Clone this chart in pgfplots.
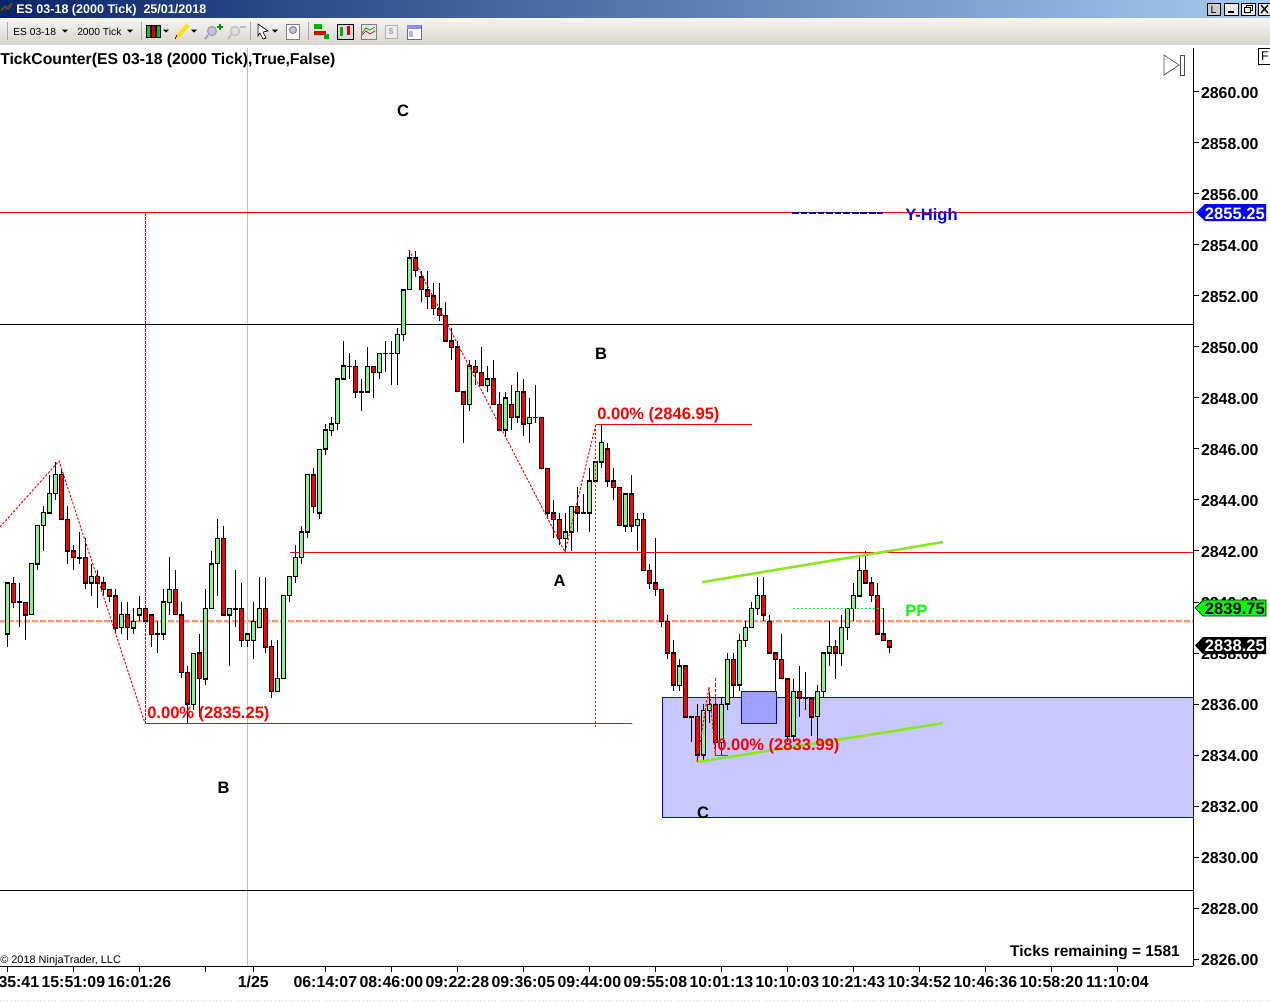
\documentclass[border=0pt]{standalone}
\usepackage{fontspec}
\setmainfont{Liberation Sans}
\usepackage{pgfplots}
\usepackage{pgfplotstable}
\pgfplotsset{compat=1.18}

\definecolor{upc}{HTML}{90EE90}
\definecolor{dnc}{HTML}{FF0000}
\definecolor{ppline}{HTML}{FF9468}
\definecolor{pphalo}{HTML}{FFD8C8}
\definecolor{chan}{HTML}{8CE81E}
\definecolor{zone}{HTML}{C8C8FF}
\definecolor{zone2}{HTML}{A0A0FF}
\definecolor{titlea}{HTML}{0A246A}
\definecolor{titleb}{HTML}{A6CAF0}
\definecolor{bara}{HTML}{F5F4EF}
\definecolor{barb}{HTML}{D9D6D0}

% i open high low close
\pgfplotstableread{
i o h l c
0 2838.75 2840.75 2838.25 2840.75
2 2840 2840.75 2839 2840
4 2839.5 2841.5 2839.5 2841.5
5 2841.5 2843 2841.25 2843
6 2843 2843.75 2842 2843.5
7 2843.5 2845 2843.5 2844.25
8 2844.25 2845.5 2844 2845
12 2841.75 2842.75 2841.5 2841.75
14 2840.75 2841.5 2840.25 2841
19 2839 2840 2838.75 2839.5
21 2839 2839.75 2838.75 2839.25
22 2839.5 2840.25 2839.25 2839.75
25 2838.75 2839.25 2838 2838.75
26 2838.75 2840.5 2838.5 2840
27 2840 2841.75 2839.5 2840.5
31 2836 2838 2835.75 2838
33 2837 2840.5 2836.75 2839.75
34 2839.75 2842 2839.75 2841.5
35 2841.5 2843.25 2840.25 2842.5
37 2839.5 2839.75 2837.5 2839.75
38 2839.75 2841.25 2839 2839.75
40 2838.5 2838.75 2838.25 2838.75
41 2838.5 2840 2837.75 2839.25
42 2839 2841 2839 2839.75
45 2836.5 2838.5 2836.5 2837
46 2837 2840.25 2837 2840.25
47 2840.25 2841 2840 2841
48 2841 2842.25 2840.75 2841.75
49 2841.75 2843 2841.5 2842.75
50 2842.75 2845 2842.5 2845
52 2843.5 2846 2843.25 2846
53 2846 2847 2845.75 2846.75
54 2846.75 2847.25 2846.5 2847
55 2847 2848.75 2846.75 2848.75
56 2848.75 2850.25 2848.75 2849.25
57 2849.25 2849.75 2848.75 2849.25
59 2848.25 2848.75 2847.5 2848.25
60 2848.25 2850 2848.25 2849.25
62 2849 2849.75 2848.75 2849.75
63 2849.75 2850.25 2849 2849.75
64 2849.75 2850.25 2848.5 2849.75
65 2849.75 2850.75 2848.5 2850.5
66 2850.5 2852.25 2850.25 2852.25
67 2852.25 2853.75 2852.25 2853.5
77 2847.75 2849.5 2847.5 2849.25
80 2848.5 2849.25 2848.25 2848.75
83 2846.75 2848.25 2846.5 2848
85 2847.25 2849 2847 2848.25
87 2847 2848 2846.25 2847.25
88 2847.25 2848.5 2847 2847.25
93 2842.5 2843.5 2842 2842.75
94 2842.75 2843.75 2842 2843.75
96 2843.5 2844.25 2843.5 2843.5
97 2843.5 2845.25 2842.75 2844.75
98 2844.75 2845.5 2844.75 2845.5
99 2845.5 2847 2845.25 2846.25
103 2843 2844.25 2842.75 2844.25
105 2843 2843.5 2842 2843.25
112 2836.75 2837.75 2836.5 2837.5
114 2835.5 2835.5 2834.5 2835.5
116 2834 2836 2833.75 2835.75
117 2835.75 2836.5 2835.25 2836
119 2834.5 2836.25 2834 2836
120 2836 2838 2835.75 2837.75
122 2836.75 2838.75 2836.5 2838.5
123 2838.5 2839.25 2838.25 2839
124 2839 2840 2839 2839.75
125 2839.75 2841 2839.5 2840.25
131 2834.75 2837 2834.5 2836.5
133 2836.25 2837.25 2835.75 2836.25
135 2835.5 2836.75 2834.5 2836.5
136 2836.5 2838 2836.25 2838
137 2838 2839.25 2837.5 2838.25
139 2838 2839.5 2837.5 2839
140 2839 2839.75 2838.5 2839.75
141 2839.75 2840.75 2839.25 2840.25
142 2840.25 2841.75 2840.25 2841.25
}\upbars

\pgfplotstableread{
i o h l c
1 2840.75 2841 2839.75 2840
3 2840 2840 2838.5 2839.5
9 2845 2845.25 2843.25 2843.25
10 2843.25 2843.75 2841.5 2842
11 2842 2842.25 2841.25 2841.75
13 2841.75 2842.5 2840.5 2840.75
15 2841 2841.25 2839.75 2840.75
16 2840.75 2841 2840.25 2840.5
17 2840.5 2840.5 2840 2840.25
18 2840.25 2840.5 2838.75 2839
20 2839.5 2840 2838.5 2839
23 2839.75 2839.75 2839.25 2839.25
24 2839.5 2839.5 2838.25 2838.75
28 2840.5 2841.25 2839.5 2839.5
29 2839.5 2840 2837 2837.25
30 2837.25 2837.5 2835.25 2836
32 2838 2838.75 2835.5 2837
36 2842.5 2843 2839.5 2839.5
39 2839.75 2840.75 2838.25 2838.5
43 2839.75 2841 2838 2838.25
44 2838.25 2838.5 2836.25 2836.5
51 2845 2845.25 2843.5 2843.75
58 2849.25 2849.5 2848 2848.25
61 2849.25 2849.25 2848 2849
68 2853.5 2853.75 2852.75 2853
69 2852.75 2853 2851.75 2852.25
70 2852.25 2853 2851.5 2852
71 2852 2852.5 2851.25 2851.5
72 2851.5 2852.5 2851 2851.25
73 2851.25 2851.75 2850.25 2850.25
74 2850.25 2850.75 2849.5 2850
75 2850 2850.25 2848.25 2848.25
76 2848.25 2848.25 2846.25 2847.75
78 2849.25 2849.5 2848.5 2849
79 2849 2850 2848.5 2848.5
81 2848.75 2849.5 2847.75 2847.75
82 2847.75 2848.25 2846.75 2846.75
84 2847.75 2848.5 2846.75 2847.25
86 2848.25 2848.75 2846.5 2847
89 2847.25 2847.25 2845.25 2845.25
90 2845.25 2845.25 2843.25 2843.5
91 2843.5 2844 2842.5 2843.25
92 2843.25 2843.5 2842.25 2842.5
95 2843.75 2844.5 2842.75 2843.5
100 2846 2846.25 2844.5 2844.75
101 2844.75 2845.25 2844 2844.5
102 2844.5 2844.5 2843 2843
104 2844.25 2845 2842.75 2843
106 2843.25 2843.5 2841.25 2841.25
107 2841.25 2841.5 2840.5 2840.75
108 2840.75 2842.5 2840.25 2840.5
109 2840.5 2840.5 2839 2839.25
110 2839.25 2839.5 2837.75 2838
111 2838 2838.5 2836.5 2836.75
113 2837.5 2837.5 2835.5 2835.5
115 2835.5 2836 2833.75 2834
118 2836 2836.25 2834.25 2834.5
121 2837.75 2838 2836.25 2836.75
126 2840.25 2841 2839.25 2839.5
127 2839.25 2839.5 2838 2838
128 2838 2838 2836.5 2837.75
129 2837.75 2838.75 2837 2837
130 2837 2837 2834.5 2834.75
132 2836.5 2837.5 2835.5 2836.25
134 2836.25 2836.25 2834.75 2835.5
138 2838.25 2838.5 2837 2838
143 2841.25 2842 2840.75 2840.75
144 2840.75 2841 2840 2840.25
145 2840.25 2840.75 2838.75 2838.75
146 2838.75 2839.75 2838.5 2838.5
147 2838.5 2838.5 2838 2838.25
}\dnbars

\newcommand{\wicks}[1]{
  \addplot[draw=none, mark=none, forget plot,
    error bars/.cd, y dir=both, y explicit, error mark=none,
    error bar style={black, line width=.9pt}]
    table[x=i, y expr={(\thisrow{o}+\thisrow{c})/2},
      y error plus expr={\thisrow{h}-(\thisrow{o}+\thisrow{c})/2},
      y error minus expr={(\thisrow{o}+\thisrow{c})/2-\thisrow{l}}] {#1};
}
\newcommand{\bodies}[2]{
  \addplot[draw=none, mark=none, forget plot,
    error bars/.cd, y dir=both, y explicit, error mark=none,
    error bar style={black, line width=4pt}]
    table[x=i, y expr={(\thisrow{o}+\thisrow{c})/2},
      y error plus expr={abs(\thisrow{o}-\thisrow{c})/2+0.025},
      y error minus expr={abs(\thisrow{o}-\thisrow{c})/2+0.025}] {#1};
  \addplot[draw=none, mark=none, forget plot,
    error bars/.cd, y dir=both, y explicit, error mark=none,
    error bar style={#2, line width=2.4pt}]
    table[x=i, y expr={(\thisrow{o}+\thisrow{c})/2},
      y error plus expr={max(abs(\thisrow{o}-\thisrow{c})/2-0.025,0)},
      y error minus expr={max(abs(\thisrow{o}-\thisrow{c})/2-0.025,0)}] {#1};
}
\newcommand{\lbl}{\fontsize{12.4}{14}\selectfont\bfseries}
\newcommand{\tbtxt}{\fontsize{7.7}{10}\selectfont}
\newcommand{\tri}[2]{\fill[black] (#1-3,#2-1.5) -- (#1+3,#2-1.5) -- (#1,#2+1.5) -- cycle;}
\newcommand{\tbsep}[1]{\draw[gray!70,line width=.75pt] (#1,22) -- (#1,40);}

\begin{document}
\begin{tikzpicture}
\useasboundingbox (0pt,0pt) rectangle (952.5pt,-750.75pt);
\begin{scope}[x=.75pt,y=-.75pt]
  \fill[white] (0,0) rectangle (1270,1001);
  % window title bar and toolbar
  \shade[left color=titlea, right color=titleb] (0,0) rectangle (1270,18);
  \shade[top color=bara, bottom color=barb] (0,18) rectangle (1270,44);
  \node[anchor=west,inner sep=0,text=white] at (16,10) {\fontsize{9.4}{10}\selectfont\bfseries ES 03-18 (2000 Tick)\ \ 25/01/2018};
  \draw[green!60!black,line width=.75pt] (1,11) -- (5,6) -- (8,9) -- (12,3);
  \draw[red,line width=.5pt] (1,8) -- (5,10) -- (9,5) -- (12,8);
  \tbsep{7} \tbsep{141} \tbsep{250} \tbsep{308}
  \node[anchor=west,inner sep=0] at (13,31.5) {\tbtxt ES 03-18};
  \tri{65}{31}
  \node[anchor=west,inner sep=0] at (77,31.5) {\tbtxt 2000 Tick};
  \tri{130}{31}
  % chart style icon
  \foreach \xx/\cc in {148/green!80!black,153/red!85!black,158/green!80!black}
    \draw[fill=\cc,line width=.5pt] (\xx-2,25) rectangle (\xx+2,37);
  \tri{166}{31}
  \draw[line width=3pt,yellow!85!orange] (177,37) -- (188,25);
  \draw[line width=.5pt] (175,39) -- (177,35);
  \tri{194}{31}
  \draw[line width=1pt,gray!70,fill=blue!25] (212,31) circle (4.5);
  \draw[line width=1.5pt,gray!70] (208,35) -- (205,39);
  \draw[line width=1.5pt,green!60!black] (217,27) -- (223,27) (220,24) -- (220,30);
  \draw[line width=1pt,gray!50,fill=gray!25] (235,31) circle (4.5);
  \draw[line width=1.5pt,gray!50] (231,35) -- (228,39);
  \draw[line width=1pt,gray!50] (240,27) -- (246,27);
  \draw[line width=.5pt,fill=white] (258,24) -- (268,31) -- (263,32) -- (266,38) -- (263,39) -- (260,33) -- (258,36) -- cycle;
  \tri{275}{31}
  \draw[line width=.5pt,gray,fill=white] (286,24) rectangle (299,39);
  \draw[line width=.75pt,gray,fill=blue!25] (293,30) circle (3.5);
  % further toolbar icons
  \fill[green!70!black] (314,24) rectangle (322,29);
  \fill[red!90!black] (314,31) rectangle (326,35);
  \fill[green!70!black] (324,34) rectangle (329,39);
  \draw[line width=.5pt,fill=gray!30] (337,24) rectangle (353,39);
  \fill[green!70!black] (340,27) rectangle (343,36);
  \fill[red!85!black] (347,26) rectangle (350,35);
  \draw[line width=.5pt,gray,fill=gray!20] (361,24) rectangle (376,39);
  \draw[green!60!black,line width=.5pt] (362,33) -- (366,28) -- (370,30) -- (375,27);
  \draw[red!80!black,line width=.5pt] (362,35) -- (366,31) -- (370,34) -- (375,31);
  \draw[line width=.5pt,gray!60,fill=gray!15] (385,25) rectangle (397,38);
  \node[inner sep=0,text=gray!70] at (391,31.5) {\fontsize{6.5}{7}\selectfont\bfseries\$};
  \draw[line width=.5pt,gray!80!blue,fill=white] (407,25) rectangle (421,39);
  \fill[blue!45] (407,25) rectangle (421,29);
  \fill[blue!30] (409,31) rectangle (413,37);
  % window buttons
  \draw[line width=.75pt,fill=gray!40] (1207,3) rectangle (1220,15);
  \node[inner sep=0] at (1213.5,9.5) {\fontsize{8}{9}\selectfont L};
  \foreach \xx in {1224,1241,1258} \draw[line width=.5pt,fill=gray!15] (\xx,3) rectangle (\xx+14,15);
  \fill (1228,11) rectangle (1234,13);
  \draw[line width=.75pt] (1246,5.5) rectangle (1252,10.5);
  \draw[line width=.75pt,fill=gray!15] (1244,7.5) rectangle (1250,12.5);
  \draw[line width=1pt] (1261,5) -- (1268,13) (1261,13) -- (1268,5);
  \draw[gray!40,line width=.75pt,dotted] (0,1000) -- (1270,1000);
\end{scope}

\begin{axis}[
  at={(0pt,-36pt)}, anchor=north west,
  scale only axis, width=894.75pt, height=688.5pt,
  xmin=-1.222, xmax=197.612, ymin=2825.725, ymax=2861.725,
  axis x line*=bottom, axis y line*=right,
  axis line style={black, line width=.75pt, -},
  tick align=outside, major tick length=4.5pt,
  tick style={black, line width=.75pt},
  xtick={0,11,22,33,41,53,64,75,86,97,108,119,130,141,152,163,174,185},
  xticklabels={15:35:41,15:51:09,16:01:26,,1/25,06:14:07,08:46:00,09:22:28,09:36:05,09:44:00,09:55:08,10:01:13,10:10:03,10:21:43,10:34:52,10:46:36,10:58:20,11:10:04},
  ytick={2826,2828,...,2860},
  /pgf/number format/fixed,
  /pgf/number format/fixed zerofill,
  /pgf/number format/precision=2,
  /pgf/number format/1000 sep={},
  /pgf/number format/assume math mode=true,
  ticklabel style={font=\fontsize{11.9}{14}\selectfont\bfseries},
  xticklabel style={text height=8.6pt, text depth=0pt, yshift=.4pt},
  yticklabel style={xshift=-2pt, yshift=-.75pt},
]
  % demand zone
  \addplot[fill=zone, draw=blue, line width=.75pt, forget plot] coordinates {(109.27,2831.53) (197.612,2831.53) (197.612,2836.27) (109.27,2836.27) (109.27,2831.53)};
  \addplot[fill=zone2, draw=blue, line width=.75pt, forget plot] coordinates {(122.33,2835.24) (128.23,2835.24) (128.23,2836.5) (122.33,2836.5) (122.33,2835.24)};
  % levels
  \addplot[gray!50, line width=1pt, forget plot] coordinates {(40.03,2825.725) (40.03,2861.725)};
  \addplot[red, line width=.75pt, forget plot] coordinates {(-1.222,2855.27) (197.612,2855.27)};
  \addplot[black, line width=.85pt, forget plot] coordinates {(-1.222,2850.88) (197.612,2850.88)};
  \addplot[black, line width=.85pt, forget plot] coordinates {(-1.222,2828.7) (197.612,2828.7)};
  \addplot[red, line width=.75pt, forget plot] coordinates {(47.1,2841.94) (197.612,2841.94)};
  \addplot[red, line width=.85pt, forget plot] coordinates {(22.95,2835.25) (104.1,2835.25)};
  \addplot[red, line width=.85pt, forget plot] coordinates {(98.1,2846.95) (124.1,2846.95)};
  \addplot[pphalo, line width=2.6pt, dash pattern=on 4.5pt off 1.5pt, forget plot] coordinates {(-1.222,2839.24) (197.612,2839.24)};
  \addplot[ppline, line width=1.4pt, dash pattern=on 4.5pt off 1.5pt, forget plot] coordinates {(-1.222,2839.24) (197.612,2839.24)};
  % candles
  \wicks{\upbars}
  \wicks{\dnbars}
  \bodies{\upbars}{upc}
  \bodies{\dnbars}{dnc}
  % swing lines
  \addplot[red, line width=.75pt, dash pattern=on 1.8pt off 1.2pt, forget plot] coordinates {(-1.222,2842.94) (8.61,2845.53) (22.95,2835.25)};
  \addplot[red, line width=.75pt, dash pattern=on 1.8pt off 1.2pt, forget plot] coordinates {(66.95,2853.8) (92.95,2841.96) (98.1,2846.98)};
  \addplot[red, line width=.75pt, dash pattern=on 1.8pt off 1.2pt, forget plot] coordinates {(22.95,2855.25) (22.95,2835.25)};
  \addplot[red, line width=.75pt, dash pattern=on 1.8pt off 1.2pt, forget plot] coordinates {(98.1,2846.95) (98.1,2835.1)};
  \addplot[red, line width=.85pt, dash pattern=on 1.8pt off 1.2pt, forget plot] coordinates {(114.95,2833.73) (116.95,2836.67) (118,2834)};
  \addplot[red, line width=.75pt, dash pattern=on 2.5pt off 1.5pt, forget plot] coordinates {(118,2837.02) (118,2834)};
  \addplot[red, line width=.75pt, forget plot] coordinates {(118,2834) (120.1,2834)};
  % channel
  \addplot[chan, line width=1.9pt, forget plot] coordinates {(115.8,2840.78) (155.95,2842.35)};
  \addplot[chan, line width=1.9pt, forget plot] coordinates {(115.1,2833.73) (155.95,2835.25)};
  \addplot[green, line width=.75pt, dash pattern=on 1.8pt off 1.2pt, forget plot] coordinates {(130.95,2839.76) (145.95,2839.76)};
  \addplot[blue!75!black, line width=1.9pt, dash pattern=on 5pt off 1.4pt, forget plot] coordinates {(130.8,2855.25) (145.95,2855.25)};
\end{axis}

\begin{scope}[x=.75pt,y=-.75pt]
  % price flags
  \fill[blue] (1196,212.5) -- (1205,204) -- (1266,204) -- (1266,221) -- (1205,221) -- cycle;
  \node[anchor=east,inner sep=0,text=white] at (1265,213.5) {\lbl 2855.25};
  \draw[fill=green,line width=.5pt] (1195,608) -- (1203,600) -- (1266,600) -- (1266,616) -- (1203,616) -- cycle;
  \node[anchor=east,inner sep=0,text=black] at (1265,608.5) {\lbl 2839.75};
  \fill[black] (1195,645.5) -- (1203,637) -- (1266,637) -- (1266,654) -- (1203,654) -- cycle;
  \node[anchor=east,inner sep=0,text=white] at (1265,646) {\lbl 2838.25};
  % chart texts
  \node[anchor=west,inner sep=0] at (0,60) {\fontsize{11.8}{14}\selectfont\bfseries TickCounter(ES 03-18 (2000 Tick),True,False)};
  \node[anchor=east,inner sep=0] at (1180,952.5) {\fontsize{11.6}{14}\selectfont\bfseries Ticks remaining = 1581};
  \node[anchor=west,inner sep=0] at (0,960.5) {\fontsize{8.2}{10}\selectfont © 2018 NinjaTrader, LLC};
  \foreach \tx/\xx/\yy in {C/403/111,B/601/354,A/559.5/581,B/223.5/787.5,C/703/812.5}
    \node[inner sep=0] at (\xx,\yy) {\lbl \tx};
  \node[anchor=west,inner sep=0,text=red] at (147,714) {\lbl 0.00\% (2835.25)};
  \node[anchor=west,inner sep=0,text=red] at (597,415) {\lbl 0.00\% (2846.95)};
  \node[anchor=west,inner sep=0,text=red] at (717,746) {\lbl 0.00\% (2833.99)};
  \node[anchor=west,inner sep=0,text=blue] at (905,216) {\lbl Y-High};
  \node[anchor=west,inner sep=0,text=green] at (905,610.5) {\lbl PP};
  % scroll to end button and F box
  \draw[line width=.5pt,black!70] (1164,55) -- (1179,65) -- (1164,75) -- cycle;
  \draw[line width=.5pt,black!70] (1180,55) rectangle (1184,75);
  \draw[line width=.75pt,fill=white] (1258,48) rectangle (1271,64);
  \node[inner sep=0,text=black] at (1265,56.5) {\fontsize{9.5}{11}\selectfont F};
\end{scope}
\end{tikzpicture}
\end{document}
